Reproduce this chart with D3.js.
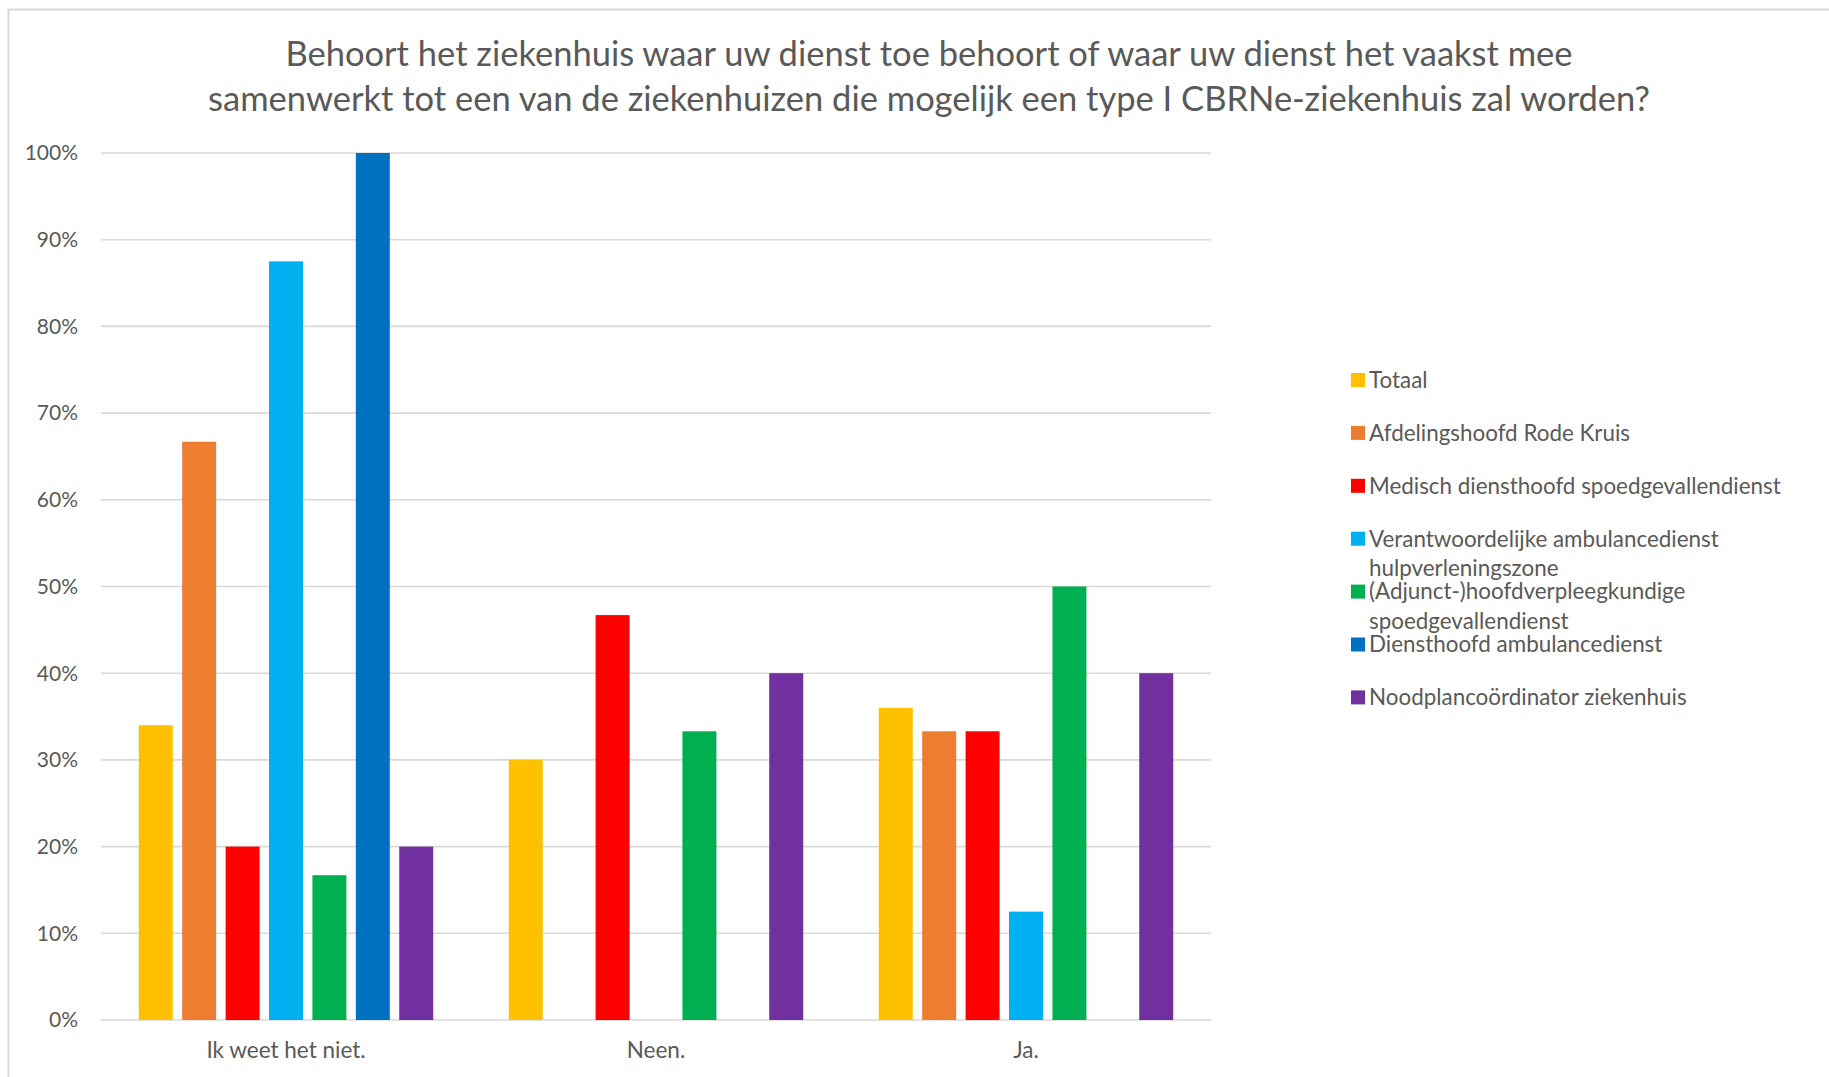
<!DOCTYPE html>
<html>
<head>
<meta charset="utf-8">
<script src="https://cdn.jsdelivr.net/npm/d3@7"></script>
<style>
  body { margin: 0; background: #fff; }
  text { font-family: Lato, "Open Sans", sans-serif; fill: #595959; }
</style>
</head>
<body>
<svg id="chart" width="1829" height="1077"></svg>
<script>
(function () {
    // answer categories (x axis)
    var categories = ["Ik weet het niet.", "Neen.", "Ja."]

    // respondent groups (series)
    var seriesNames = [
        "Totaal",
        "Afdelingshoofd Rode Kruis",
        "Medisch diensthoofd spoedgevallendienst",
        "Verantwoordelijke ambulancedienst hulpverleningszone",
        "(Adjunct-)hoofdverpleegkundige spoedgevallendienst",
        "Diensthoofd ambulancedienst",
        "Noodplancoördinator ziekenhuis"
    ]
    var seriesColors = ["#FFC000", "#ED7D31", "#FF0000", "#00B0F0", "#00B050", "#0070C0", "#7030A0"]

    // share per series, in the order of categories (fractions)
    var totaal       = [0.34, 0.30, 0.36]
    var afdelingshfd = [0.667, 0, 0.333]
    var medisch      = [0.20, 0.467, 0.333]
    var verantw      = [0.875, 0, 0.125]
    var adjunct      = [0.167, 0.333, 0.50]
    var diensthfd    = [1.0, 0, 0]
    var noodplan     = [0.20, 0.40, 0.40]
    var seriesValues = [totaal, afdelingshfd, medisch, verantw, adjunct, diensthfd, noodplan]

    var yTicks = [0, 0.1, 0.2, 0.3, 0.4, 0.5, 0.6, 0.7, 0.8, 0.9, 1.0]

    var titleLines = [
        "Behoort het ziekenhuis waar uw dienst toe behoort of waar uw dienst het vaakst mee",
        "samenwerkt tot een van de ziekenhuizen die mogelijk een type I CBRNe-ziekenhuis zal worden?"
    ]

    var left = 101, right = 1211, top = 153, bottom = 1020

    var svg = d3.select("#chart")

    // chart frame
    svg.append("path")
        .attr("d", "M8.5,1077 L8.5,9.5 L1829,9.5")
        .attr("fill", "none")
        .attr("stroke", "#D9D9D9")
        .attr("stroke-width", 2)

    var x = d3.scaleBand().domain(categories).range([left, right]).padding(0)
    var xs = d3.scaleBand().domain(d3.range(seriesNames.length))
        .range([0, x.bandwidth()])
        .paddingInner(0.217)
        .paddingOuter(0.87)
    var y = d3.scaleLinear().domain([0, 1]).range([bottom, top])

    // gridlines
    svg.append("g")
        .selectAll("line")
        .data(yTicks)
        .join("line")
        .attr("x1", left)
        .attr("x2", right)
        .attr("y1", d => y(d))
        .attr("y2", d => y(d))
        .attr("stroke", "#D9D9D9")
        .attr("stroke-width", 1.6)

    // y axis labels
    svg.append("g")
        .selectAll("text")
        .data(yTicks)
        .join("text")
        .attr("x", 78)
        .attr("y", d => y(d))
        .attr("dy", "0.35em")
        .attr("text-anchor", "end")
        .style("font-size", "21px")
        .text(d => d3.format(".0%")(d))

    // bars
    var groups = svg.append("g")
        .selectAll("g")
        .data(seriesNames)
        .join("g")
        .attr("fill", (d, i) => seriesColors[i])

    groups.selectAll("rect")
        .data((d, i) => seriesValues[i].map((v, j) => ({ s: i, c: categories[j], v: v })))
        .join("rect")
        .attr("x", d => x(d.c) + xs(d.s))
        .attr("y", d => y(d.v))
        .attr("width", xs.bandwidth())
        .attr("height", d => bottom - y(d.v))

    // x axis labels
    svg.append("g")
        .selectAll("text")
        .data(categories)
        .join("text")
        .attr("x", d => x(d) + x.bandwidth() / 2)
        .attr("y", 1050)
        .attr("dy", "0.35em")
        .attr("text-anchor", "middle")
        .style("font-size", "22.5px")
        .text(d => d)

    // title
    svg.append("g")
        .selectAll("text")
        .data(titleLines)
        .join("text")
        .attr("x", 929)
        .attr("y", (d, i) => 54 + i * 45)
        .attr("dy", "0.35em")
        .attr("text-anchor", "middle")
        .style("font-size", "34.5px")
        .text(d => d)

    // legend
    var legend = svg.append("g").attr("transform", "translate(1351,380)")
    var items = legend.selectAll("g")
        .data(seriesNames)
        .join("g")
        .attr("transform", (d, i) => "translate(0," + (i * 52.9) + ")")

    items.append("rect")
        .attr("x", 0)
        .attr("y", -7)
        .attr("width", 14)
        .attr("height", 14)
        .attr("fill", (d, i) => seriesColors[i])

    items.append("text")
        .attr("x", 18)
        .attr("y", 0)
        .style("font-size", "22.4px")
        .each(function (d) {
            // wrap long names over two lines
            var t = d3.select(this)
            var words = d.split(" ")
            var line = []
            var tspan = t.append("tspan").attr("x", 18).attr("dy", "0.35em")
            words.forEach(function (w) {
                line.push(w)
                tspan.text(line.join(" "))
                if (tspan.node().getComputedTextLength() > 440 && line.length > 1) {
                    line.pop()
                    tspan.text(line.join(" "))
                    line = [w]
                    tspan = t.append("tspan").attr("x", 18).attr("dy", "1.3em").text(w)
                }
            })
        })
})();
</script>
</body>
</html>
